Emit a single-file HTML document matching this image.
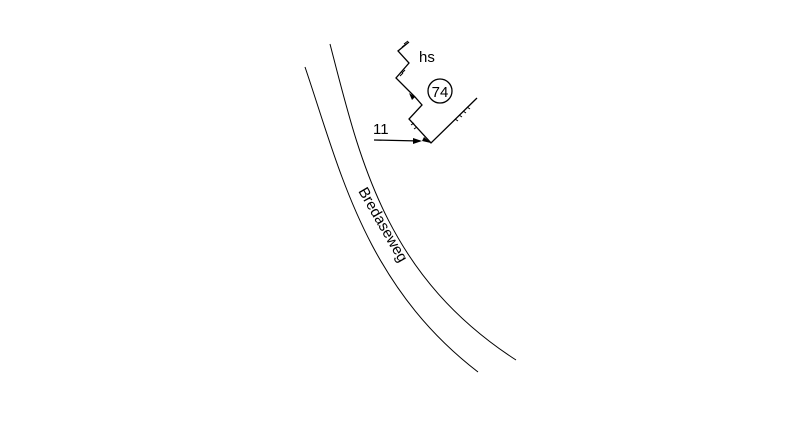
<!DOCTYPE html>
<html><head><style>body{margin:0;background:#fff}svg{display:block}</style></head><body>
<svg width="800" height="429" viewBox="0 0 800 429" xmlns="http://www.w3.org/2000/svg">
<g fill="none" stroke="#000" stroke-width="1">
<path d="M305 67 C 340 170, 365 285, 478 372"/>
<path d="M330 44 C 360 160, 385 275, 516 360"/>
<polyline points="409,42 398,51 409,63 396,78 415,97 422,105 409,119 431,143 477,98" stroke-width="1.3"/>
<line x1="374" y1="140" x2="420" y2="141" stroke-width="1.3"/>
<circle cx="440" cy="91" r="12" stroke-width="1.3"/>
<path d="M404 44 l4 -3 M402 47 l4 -3 M405 70 l-3 3 M403 73 l-3 3 M414 123 l-3 2 M417 127 l-3 2 M455 119 l3 2 M459 115 l3 2 M463 111 l3 2 M467 107 l3 2"/>
</g>
<g fill="#000">
<polygon points="422,141 413,138 413,144"/>
<polygon points="415,97 409,93 412,100"/>
<polygon points="431,143 424,137 422,141"/>
</g>
<g font-family="Liberation Sans, sans-serif" fill="#000">
<text x="419" y="62" font-size="15">hs</text>
<text x="440" y="97" font-size="15" text-anchor="middle">74</text>
<text x="373" y="134" font-size="15">11</text>
<text x="0" y="0" font-size="15" transform="translate(358,191) rotate(60)">Bredaseweg</text>
</g>
</svg>
</body></html>
